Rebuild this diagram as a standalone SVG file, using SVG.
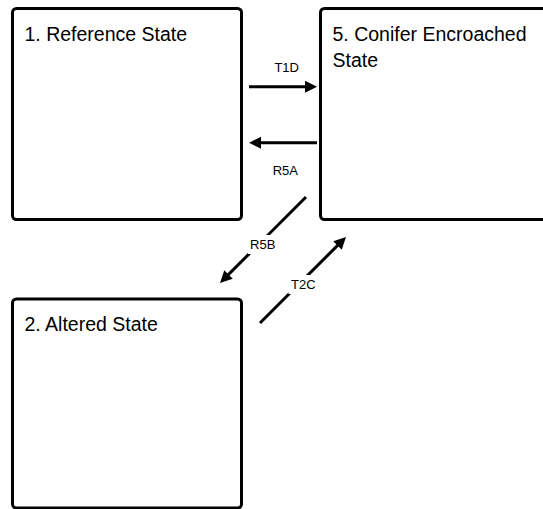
<svg xmlns="http://www.w3.org/2000/svg" width="543" height="509" viewBox="0 0 543 509">
<style>
.box{fill:#fff;stroke:#000;stroke-width:3}
.title{font-family:"Liberation Sans",Arial,sans-serif;font-size:19.5px;fill:#000}
.lbl{font-family:"Liberation Sans",Arial,sans-serif;font-size:13px;fill:#000;text-anchor:middle}
.edge{stroke:#000;stroke-width:3;fill:none;marker-end:url(#ah)}
.lblbg{fill:#fff}
</style>
<defs>
<marker id="ah" markerUnits="userSpaceOnUse" markerWidth="14" markerHeight="14" refX="2" refY="6" orient="auto">
<path d="M0,0 L12,6 L0,12 z" fill="#000"/>
</marker>
</defs>
<rect width="543" height="509" fill="#fff"/>
<g id="node1">
<rect class="box" x="12.5" y="8.5" width="229" height="211" rx="4"/>
<text class="title" x="24.5" y="40.5">1. Reference State</text>
</g>
<g id="node5">
<rect class="box" x="320.5" y="8.5" width="229" height="211" rx="4"/>
<text class="title" x="332.5" y="40.5">5. Conifer Encroached</text>
<text class="title" x="332.5" y="66.5">State</text>
</g>
<g id="node2">
<rect class="box" x="12.5" y="299" width="229" height="209" rx="4"/>
<text class="title" x="24.5" y="330.5">2. Altered State</text>
</g>
<g id="connectors">
<line class="edge" x1="249" y1="86.7" x2="307" y2="86.7"/>
<text class="lbl" x="286.7" y="71.7">T1D</text>
<line class="edge" x1="317" y1="142.7" x2="259" y2="142.7"/>
<text class="lbl" x="285.3" y="175">R5A</text>
<line class="edge" x1="306" y1="197" x2="227.1" y2="275.9"/>
<rect class="lblbg" x="248" y="235" width="30" height="19"/>
<text class="lbl" x="262.7" y="249">R5B</text>
<line class="edge" x1="260" y1="323" x2="338.9" y2="244.1"/>
<rect class="lblbg" x="288.5" y="275" width="30" height="19"/>
<text class="lbl" x="303.3" y="289">T2C</text>
</g>
</svg>
